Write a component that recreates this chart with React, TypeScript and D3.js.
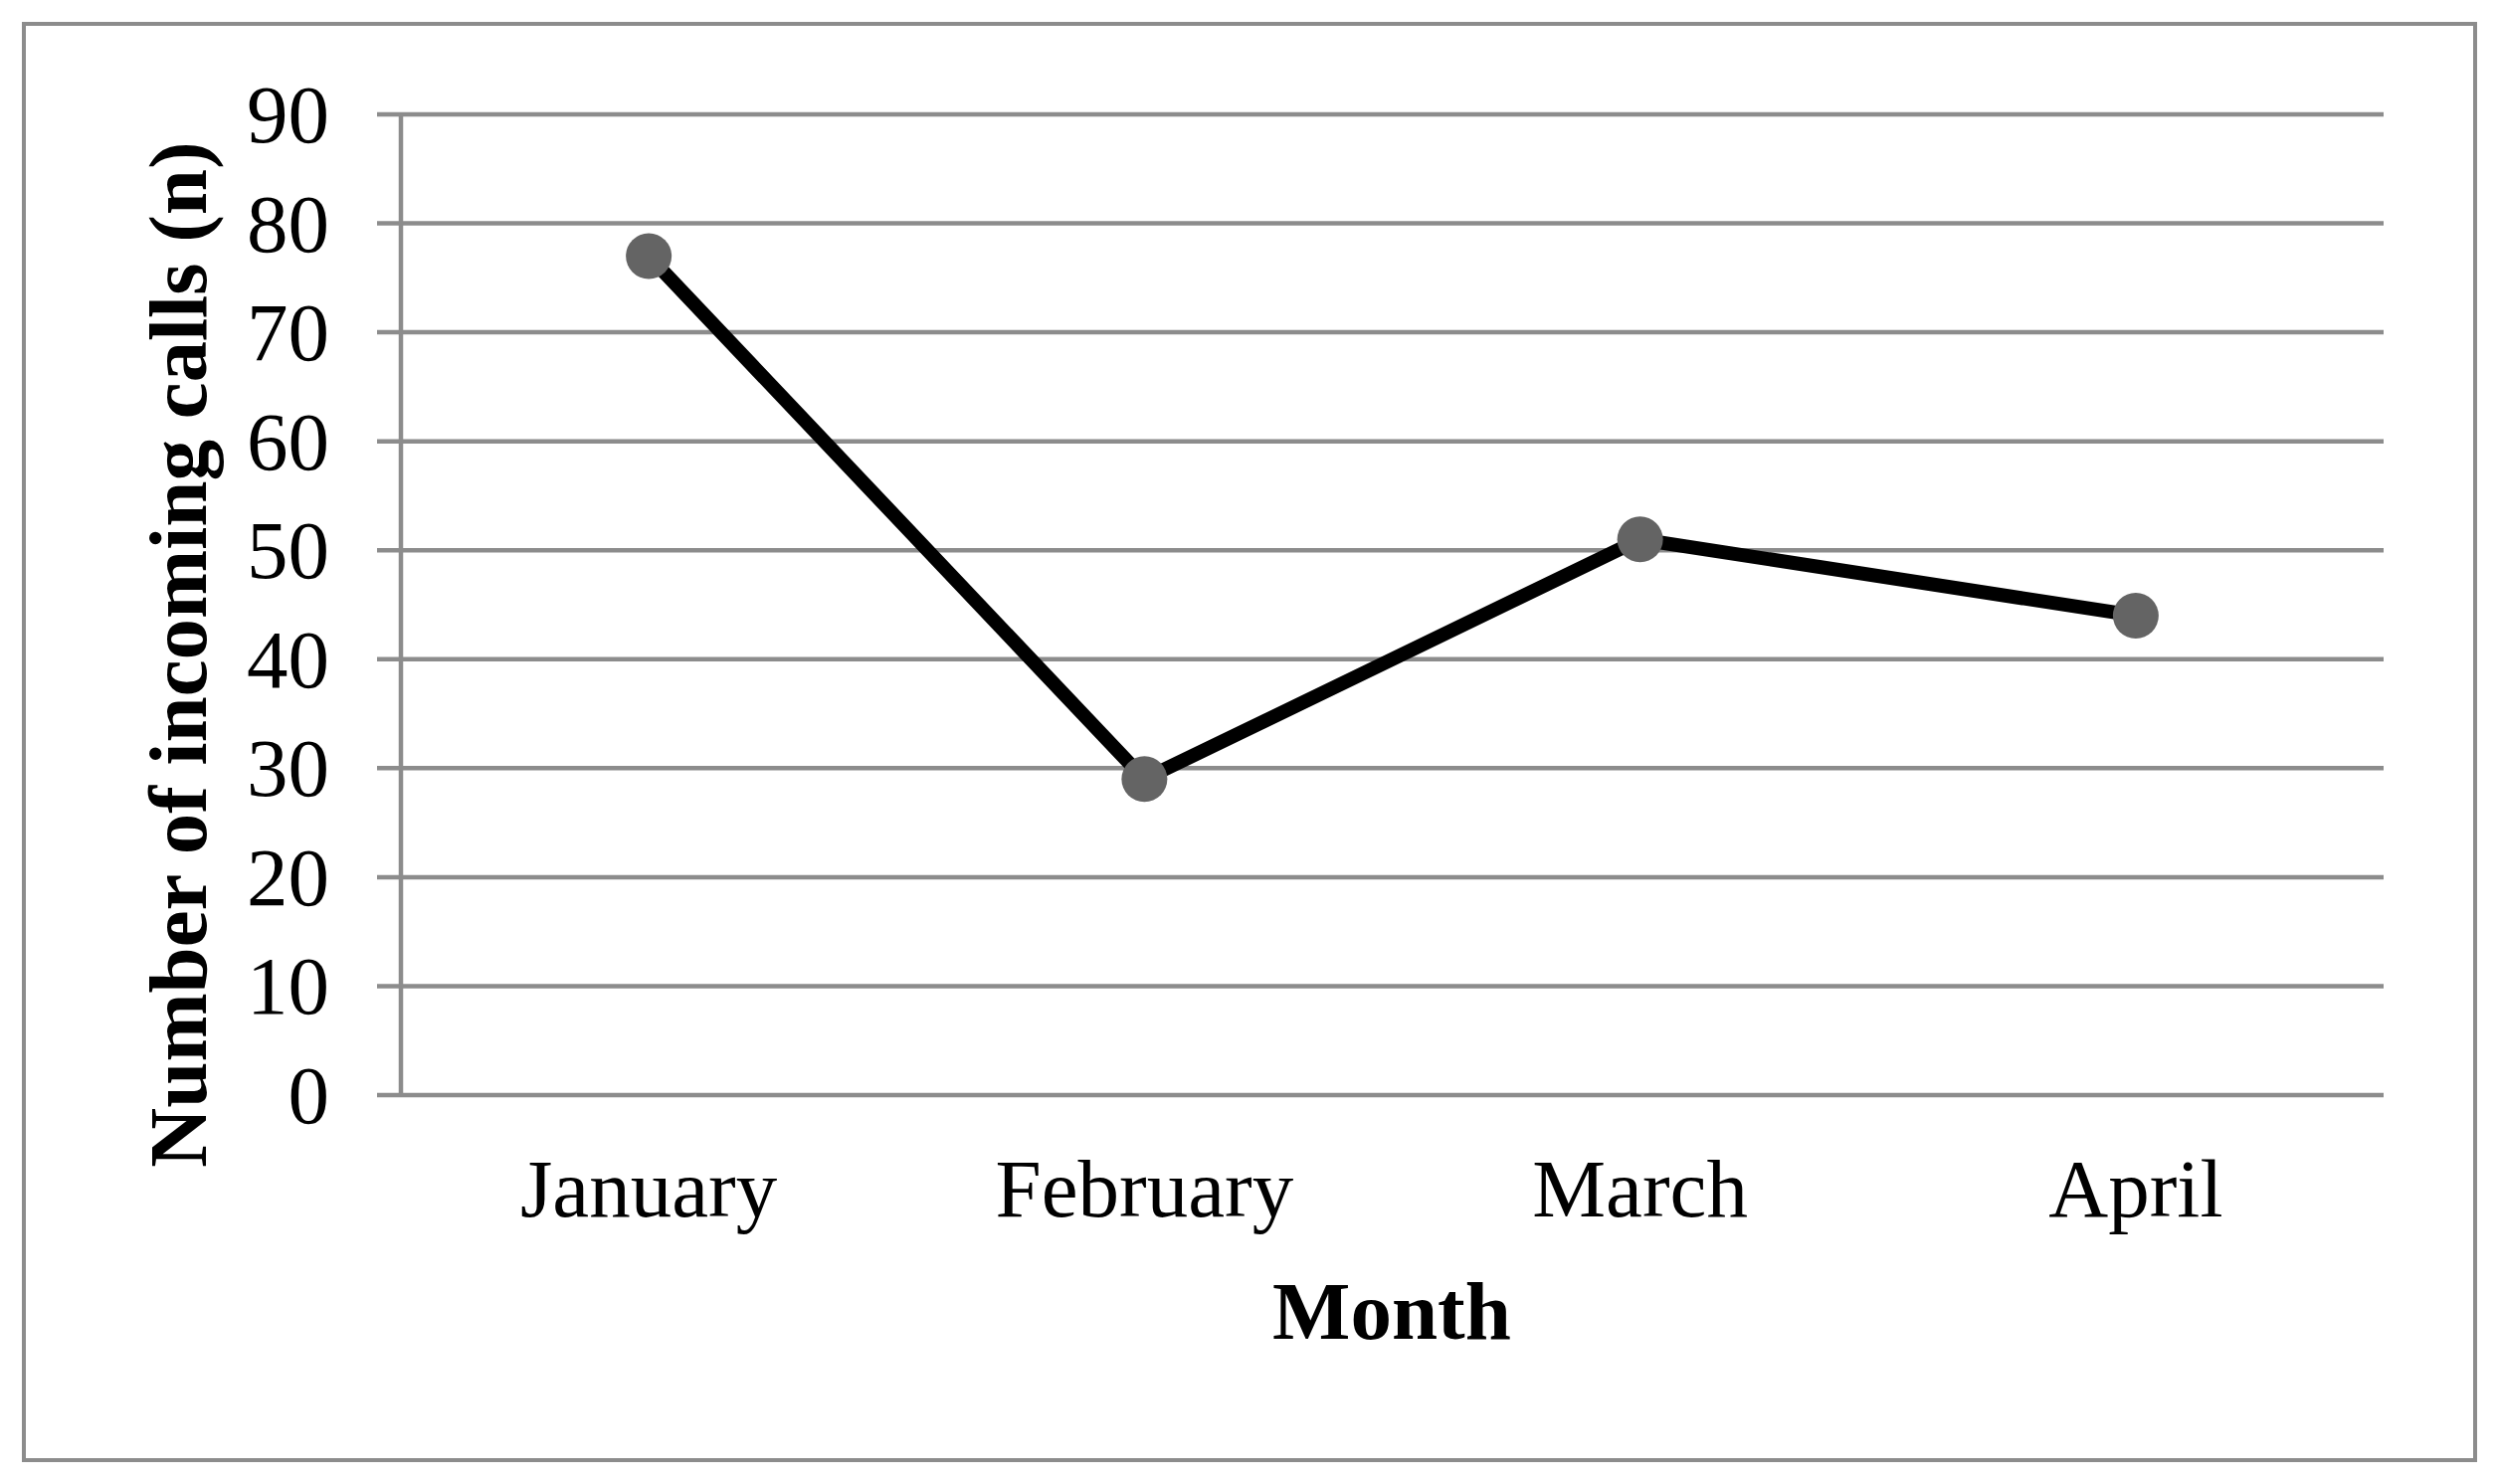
import React from "react";
import * as d3 from "d3";

const months = ["January", "February", "March", "April"];
const calls = [77, 29, 51, 44];
const yTicks = [0, 10, 20, 30, 40, 50, 60, 70, 80, 90];

const W = 2512;
const H = 1492;
const plotLeft = 403;
const plotRight = 2396;
const plotTop = 115;
const plotBottom = 1101;
const FONT = "'Liberation Serif', 'Times New Roman', serif";
const GRID = "#8c8c8c";

export default function App() {
  const x = d3.scaleBand<string>().domain(months).range([plotLeft, plotRight]).padding(0);
  const y = d3.scaleLinear().domain([0, 90]).range([plotBottom, plotTop]);
  const cx = (m: string) => (x(m) as number) + x.bandwidth() / 2;
  const line = d3
    .line<number>()
    .x((_, i) => cx(months[i]))
    .y((d) => y(d));

  return (
    <svg
      width={W}
      height={H}
      style={{ position: "absolute", left: 0, top: 0, background: "#fff" }}
      xmlns="http://www.w3.org/2000/svg"
    >
      <rect x={0} y={0} width={W} height={H} fill="#fff" />
      <rect x={24} y={24} width={2464} height={1444} fill="none" stroke={GRID} strokeWidth={4} />
      {yTicks.map((t) => (
        <g key={t}>
          <line x1={379} x2={plotRight} y1={y(t)} y2={y(t)} stroke={GRID} strokeWidth={4.5} />
          <text
            x={331}
            y={y(t) + 28}
            textAnchor="end"
            fontFamily={FONT}
            fontSize={83}
            fill="#000"
          >
            {t}
          </text>
        </g>
      ))}
      <line x1={plotLeft} x2={plotLeft} y1={plotTop - 2} y2={plotBottom} stroke={GRID} strokeWidth={4.5} />
      <path d={line(calls) || ""} fill="none" stroke="#000" strokeWidth={14} strokeLinejoin="miter" />
      {calls.map((v, i) => (
        <circle key={months[i]} cx={cx(months[i])} cy={y(v)} r={23} fill="#646464" />
      ))}
      {months.map((m) => (
        <text
          key={m}
          x={cx(m)}
          y={1223}
          textAnchor="middle"
          fontFamily={FONT}
          fontSize={83}
          fill="#000"
        >
          {m}
        </text>
      ))}
      <text
        x={1399}
        y={1346}
        textAnchor="middle"
        fontFamily={FONT}
        fontSize={83}
        fontWeight="bold"
        fill="#000"
      >
        Month
      </text>
      <text
        transform={`translate(207, 658) rotate(-90)`}
        textAnchor="middle"
        fontFamily={FONT}
        fontSize={83}
        fontWeight="bold"
        fill="#000"
      >
        Number of incoming calls (n)
      </text>
    </svg>
  );
}
